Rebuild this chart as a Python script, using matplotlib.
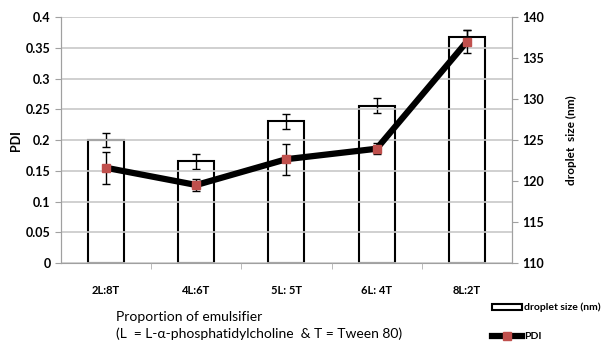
import matplotlib.pyplot as plt
from matplotlib.lines import Line2D
from matplotlib.patches import Patch

# data
ratios = ['2L:8T', '4L:6T', '5L: 5T', '6L: 4T', '8L:2T']
droplet_size = [125.0, 122.4, 127.3, 129.2, 137.6]
droplet_err = [0.9, 0.9, 0.9, 0.9, 0.8]
pdi = [0.155, 0.127, 0.169, 0.186, 0.36]
pdi_err = [0.026, 0.010, 0.025, 0.009, 0.019]

size_base = 110

plt.rcParams['font.family'] = ['Lato', 'DejaVu Sans']

fig = plt.figure(figsize=(6.11, 3.43), dpi=100)
ax = fig.add_axes([0.0998, 0.233, 0.738, 0.717])
ax2 = ax.twinx()

x = list(range(len(ratios)))

# bars on the right axis, drawn underneath
ax2.bar(x, [d - size_base for d in droplet_size], width=0.4, bottom=size_base,
        color='white', edgecolor='black', linewidth=1.5, zorder=3)
ax2.errorbar(x, droplet_size, yerr=droplet_err, fmt='none', ecolor='black',
             elinewidth=1, capsize=3, capthick=1, zorder=4)
ax2.set_ylim(110, 140)
ax2.set_yticks([110, 115, 120, 125, 130, 135, 140])
ax2.set_ylabel('droplet  size (nm)', fontsize=8.5, fontweight='bold', labelpad=16)

# PDI line on the left axis, on top
ax.set_zorder(ax2.get_zorder() + 1)
ax.patch.set_visible(False)
ax.plot(x, pdi, color='black', linewidth=4.5, zorder=3)
ax.errorbar(x, pdi, yerr=pdi_err, fmt='none', ecolor='black',
            elinewidth=1, capsize=3, capthick=1, zorder=4)
ax.plot(x, pdi, linestyle='none', marker='s', markersize=6,
        color='#c0504d', zorder=5)
ax.set_ylim(0, 0.4)
ax.set_yticks([0, 0.05, 0.1, 0.15, 0.2, 0.25, 0.3, 0.35, 0.4])
ax.set_yticklabels(['0', '0.05', '0.1', '0.15', '0.2', '0.25', '0.3', '0.35', '0.4'])
ax.set_ylabel('PDI', fontsize=9, fontweight='bold', labelpad=3)
ax.grid(axis='y', color='#c8c8c8', linewidth=1.2)

ax.set_xlim(-0.5, len(ratios) - 0.5)
ax.set_xticks(x)
ax.set_xticklabels(ratios, fontsize=8, fontweight='bold')
ax.tick_params(axis='x', length=0, pad=16)
ax.set_xticks([i + 0.5 for i in x[:-1]], minor=True)
ax.tick_params(axis='x', which='minor', length=4, color='#b0b0b0')

for a in (ax, ax2):
    a.tick_params(axis='y', labelsize=9, colors='black', length=4)
    a.tick_params(axis='y', color='#a0a0a0')
    a.spines['top'].set_visible(False)
    for s in ('left', 'right', 'bottom'):
        a.spines[s].set_color('#a0a0a0')
ax.spines['bottom'].set_visible(False)
for lbl in ax.get_yticklabels() + ax2.get_yticklabels():
    lbl.set_fontweight('bold')

fig.text(0.19, 0.05, 'Proportion of emulsifier\n(L  = L-\u03b1-phosphatidylcholine  & T = Tween 80)',
         fontsize=10, ha='left', va='center', linespacing=1.45)

handles = [Patch(facecolor='white', edgecolor='black', linewidth=1.5),
           Line2D([], [], color='black', linewidth=4.5, marker='s',
                  markersize=6, markerfacecolor='#c0504d', markeredgecolor='#c0504d')]
fig.legend(handles, ['droplet size (nm)', 'PDI'], loc='upper left',
           bbox_to_anchor=(0.795, 0.135), frameon=False,
           prop={'size': 7.5, 'weight': 'bold'},
           labelspacing=1.9, handlelength=2.9, handletextpad=0.2,
           handleheight=0.5, borderpad=0.1)

fig.savefig('out.png', dpi=100)
